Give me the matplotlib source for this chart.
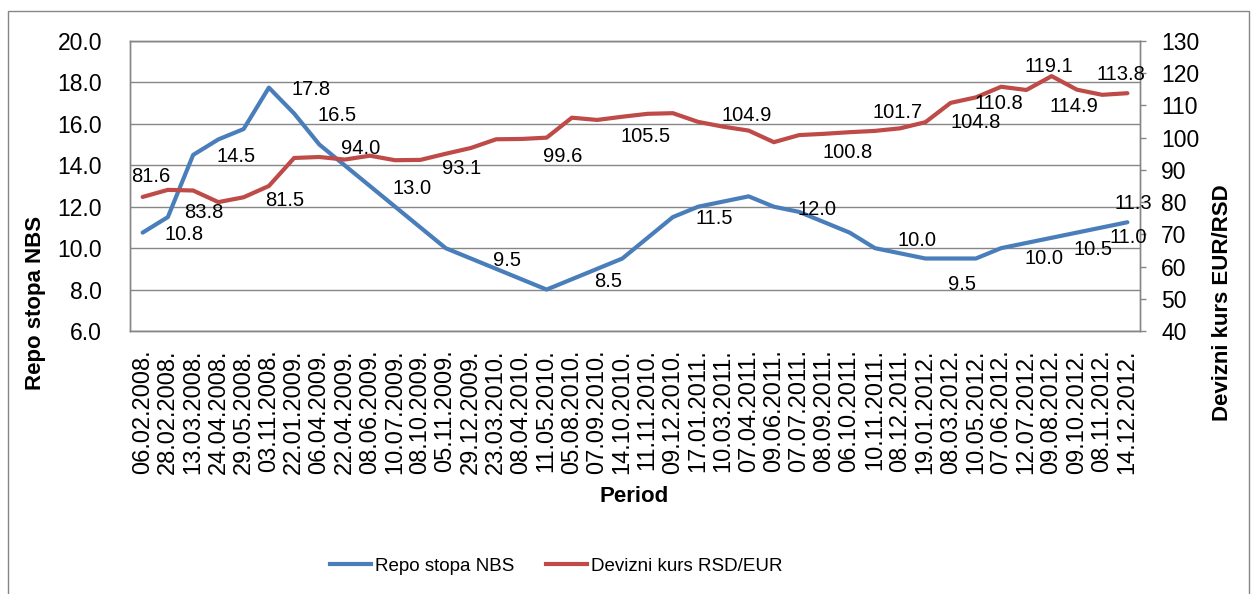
import math
import matplotlib
matplotlib.use("Agg")
import matplotlib.pyplot as plt
from matplotlib.lines import Line2D
from matplotlib.patches import Rectangle

plt.rcParams['font.family'] = ['Liberation Sans', 'DejaVu Sans']

periods = [
    "06.02.2008.", "28.02.2008.", "13.03.2008.", "24.04.2008.", "29.05.2008.",
    "03.11.2008.", "22.01.2009.", "06.04.2009.", "22.04.2009.", "08.06.2009.",
    "10.07.2009.", "08.10.2009.", "05.11.2009.", "29.12.2009.", "23.03.2010.",
    "08.04.2010.", "11.05.2010.", "05.08.2010.", "07.09.2010.", "14.10.2010.",
    "11.11.2010.", "09.12.2010.", "17.01.2011.", "10.03.2011.", "07.04.2011.",
    "09.06.2011.", "07.07.2011.", "08.09.2011.", "06.10.2011.", "10.11.2011.",
    "08.12.2011.", "19.01.2012.", "08.03.2012.", "10.05.2012.", "07.06.2012.",
    "12.07.2012.", "09.08.2012.", "09.10.2012.", "08.11.2012.", "14.12.2012.",
]

repo = [10.75, 11.5, 14.5, 15.25, 15.75, 17.75, 16.5, 15.0, 14.0, 13.0,
        12.0, 11.0, 10.0, 9.5, 9.0, 8.5, 8.0, 8.5, 9.0, 9.5,
        10.5, 11.5, 12.0, 12.25, 12.5, 12.0, 11.75, 11.25, 10.75, 10.0,
        9.75, 9.5, 9.5, 9.5, 10.0, 10.25, 10.5, 10.75, 11.0, 11.25]

kurs = [81.6, 83.8, 83.6, 80.0, 81.5, 85.0, 93.7, 94.0, 93.2, 94.4,
        93.0, 93.1, 95.0, 96.8, 99.5, 99.6, 100.0, 106.2, 105.5, 106.5,
        107.4, 107.6, 104.9, 103.4, 102.2, 98.6, 100.8, 101.2, 101.7, 102.1,
        102.9, 104.8, 110.8, 112.5, 115.8, 114.8, 119.1, 114.9, 113.3, 113.8]

# labelled points: index, offset of label left edge / centre from the point (px)
repo_labels = [(0, 22, 2), (2, 23, 2), (5, 23, 2), (6, 23, 2), (9, 23, 2),
               (13, 22, 2), (17, 22, 2), (21, 23, 1), (25, 24, 3), (29, 23, -8),
               (31, 23, 26), (34, 23, 10), (36, 22, 12), (38, 7, 10), (39, -13, -19)]
kurs_labels = [(0, -11, -20), (1, 16, 23), (4, 22, 3), (7, 22, -9), (11, 22, 9),
               (15, 22, 18), (18, 23, 17), (22, 23, -6), (26, 23, 17), (28, 23, -20),
               (31, 25, 0), (32, 24, 1), (36, -27, -10), (37, -27, 17), (39, -31, -19)]

blue = '#4a7ebb'
red = '#be4b48'
gray = '#868686'

W, H = 1256, 594
fig = plt.figure(figsize=(W / 100, H / 100), dpi=100)
ax = fig.add_axes([130 / W, 1 - 331 / H, 1010 / W, 290 / H])
ax2 = ax.twinx()

x = list(range(len(periods)))
ax.plot(x, repo, color=blue, lw=3, solid_capstyle='round')
ax2.plot(x, kurs, color=red, lw=3, solid_capstyle='round')

ax.set_xlim(-0.5, len(periods) - 0.5)
ax.set_ylim(6, 20)
ax.set_yticks(range(6, 21, 2))
ax.set_yticklabels([f"{v:.1f}" for v in range(6, 21, 2)])
ax2.set_ylim(40, 130)
ax2.set_yticks(range(40, 131, 10))
ax.set_xticks(x)
ax.set_xticklabels(periods, rotation=90, fontsize=17)

ax.grid(axis='y', color=gray, lw=1)
ax.set_axisbelow(True)
ax.tick_params(axis='x', length=0, pad=13)
ax.tick_params(axis='y', length=0, pad=20, labelsize=16.5)
ax2.tick_params(axis='y', length=4.3, width=1, color=gray, pad=11, labelsize=16.5)
for a in (ax, ax2):
    for s in a.spines.values():
        s.set_color(gray)
        s.set_linewidth(1)


def fmt(v):
    return f"{math.floor(v * 10 + 0.5) / 10:.1f}"


for i, dx, dy in repo_labels:
    ax2.annotate(fmt(repo[i]), xy=(i, repo[i]), xycoords=ax.transData,
                 xytext=(dx * 0.72, -dy * 0.72), textcoords='offset points',
                 ha='left', va='center', fontsize=14.5)
for i, dx, dy in kurs_labels:
    ax2.annotate(fmt(kurs[i]), xy=(i, kurs[i]), xytext=(dx * 0.72, -dy * 0.72),
                 textcoords='offset points', ha='left', va='center', fontsize=14.5)

fig.text(36 / W, 1 - 303 / H, 'Repo stopa NBS', rotation=90, ha='center',
         va='center', fontsize=16, weight='bold')
fig.text(1222 / W, 1 - 303 / H, 'Devizni kurs EUR/RSD', rotation=90, ha='center',
         va='center', fontsize=16, weight='bold')
fig.text(634 / W, 1 - 497 / H, 'Period', ha='center', va='center',
         fontsize=16, weight='bold')

handles = [Line2D([], [], color=blue, lw=3), Line2D([], [], color=red, lw=3)]
fig.legend(handles, ['Repo stopa NBS', 'Devizni kurs RSD/EUR'], loc='center',
           bbox_to_anchor=(556 / W, 1 - 566 / H), ncol=2, frameon=False,
           fontsize=13.5, handlelength=2.2, handletextpad=0.2, columnspacing=1.7)

fig.patches.append(Rectangle((8 / W, -0.02), (1249 - 8) / W, 1 - 11 / H + 0.02,
                             transform=fig.transFigure, fill=False,
                             edgecolor=gray, lw=1))

fig.savefig('out.png', dpi=100)
